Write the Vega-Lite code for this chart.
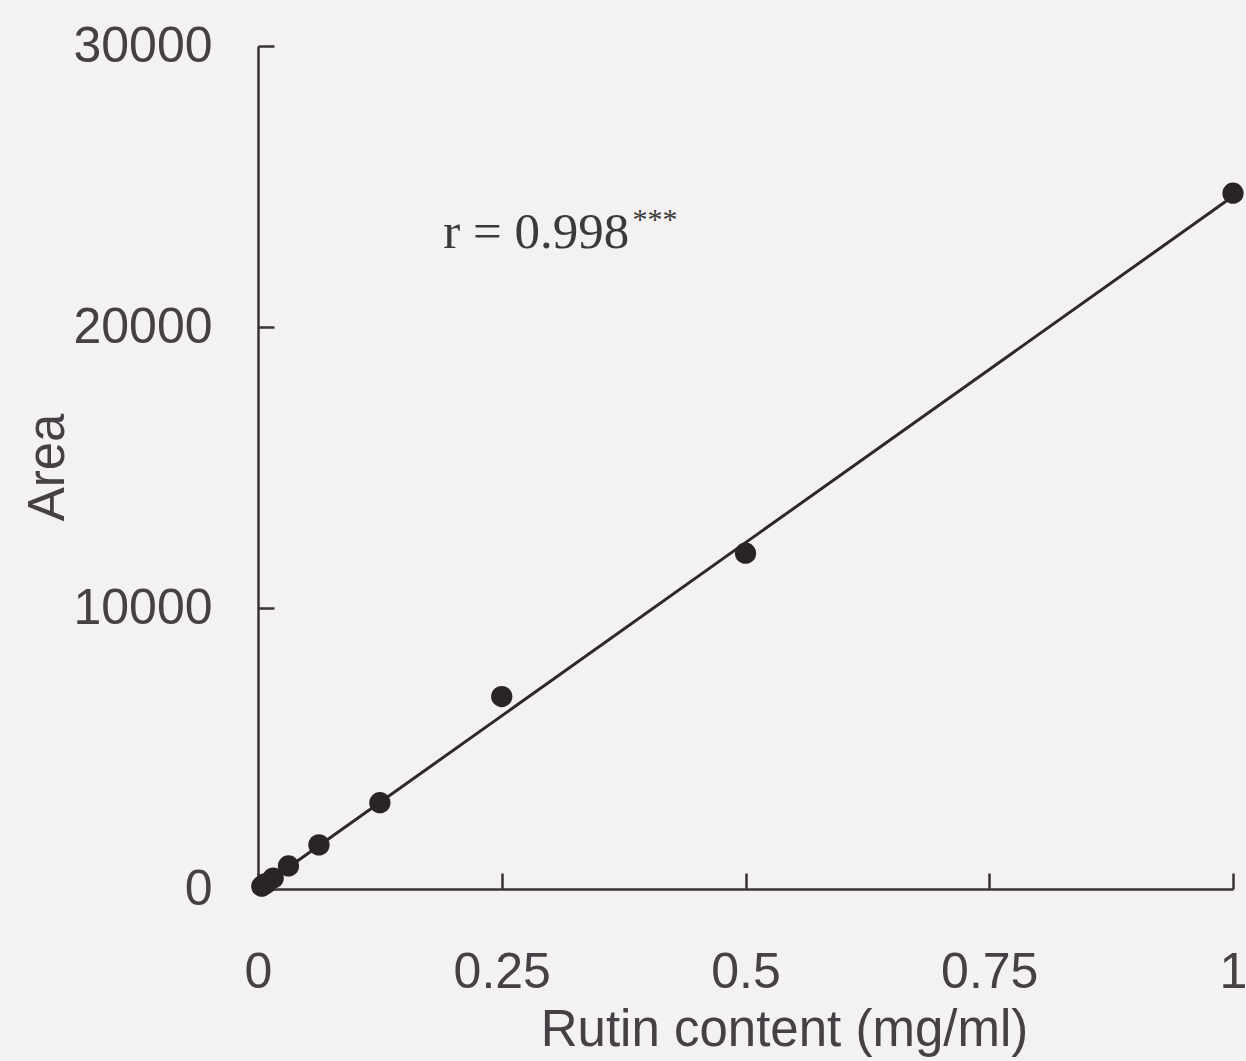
{
  "$schema": "https://vega.github.io/schema/vega-lite/v6.json",
  "autosize": "none",
  "width": 975,
  "height": 843,
  "padding": {"left": 258, "top": 46, "right": 13, "bottom": 172},
  "background": "#f3f1f1",
  "config": {
    "view": {"stroke": null},
    "axis": {
      "labelFont": "Liberation Sans",
      "titleFont": "Liberation Sans",
      "labelFontSize": 50,
      "titleFontSize": 51,
      "labelColor": "#454045",
      "titleColor": "#454045",
      "titleFontWeight": "normal",
      "domainColor": "#3a3236",
      "domainWidth": 2.5,
      "tickColor": "#3a3236",
      "tickWidth": 2.5,
      "tickSize": -16,
      "grid": false
    }
  },
  "datasets": {
    "pts": [
      {"conc": 0.0039, "area": 100},
      {"conc": 0.0078, "area": 190},
      {"conc": 0.0156, "area": 390},
      {"conc": 0.03125, "area": 820},
      {"conc": 0.0625, "area": 1570},
      {"conc": 0.125, "area": 3070},
      {"conc": 0.25, "area": 6850},
      {"conc": 0.5, "area": 11950},
      {"conc": 1.0, "area": 24760}
    ],
    "fit": [
      {"conc": 0, "area": 0},
      {"conc": 1.0, "area": 24650}
    ],
    "ann": [
      {"conc": 0.19, "area": 22800, "label": "r = 0.998"}
    ],
    "stars": [
      {"conc": 0.384, "area": 23500, "label": "***"}
    ]
  },
  "layer": [
    {
      "data": {"name": "fit"},
      "mark": {"type": "line", "color": "#2e282c", "strokeWidth": 3},
      "encoding": {
        "x": {
          "field": "conc", "type": "quantitative",
          "scale": {"domain": [0, 1], "nice": false, "zero": true},
          "axis": {
            "values": [0, 0.25, 0.5, 0.75, 1],
            "format": "~g",
            "title": "Rutin content (mg/ml)",
            "labelPadding": 74,
            "labelBaseline": "top",
            "labelFlush": false,
            "titleX": 526,
            "titleY": 156,
            "titleBaseline": "alphabetic",
            "titleAnchor": null,
            "titleAlign": "center"
          }
        },
        "y": {
          "field": "area", "type": "quantitative",
          "scale": {"domain": [0, 30000], "nice": false},
          "axis": {
            "values": [0, 10000, 20000, 30000],
            "title": "Area",
            "labelPadding": 62,
            "format": "d",
            "titleX": -210,
            "titleY": 421,
            "titleAngle": -90,
            "titleAlign": "center",
            "titleBaseline": "middle",
            "titleAnchor": null
          }
        }
      }
    },
    {
      "data": {"name": "pts"},
      "mark": {"type": "circle", "size": 452, "color": "#2a2327", "opacity": 1},
      "encoding": {
        "x": {"field": "conc", "type": "quantitative"},
        "y": {"field": "area", "type": "quantitative"}
      }
    },
    {
      "data": {"name": "ann"},
      "mark": {"type": "text", "font": "Liberation Serif", "fontSize": 51, "align": "left", "baseline": "alphabetic", "color": "#3a3a3a"},
      "encoding": {
        "x": {"field": "conc", "type": "quantitative"},
        "y": {"field": "area", "type": "quantitative"},
        "text": {"field": "label"}
      }
    },
    {
      "data": {"name": "stars"},
      "mark": {"type": "text", "font": "Liberation Serif", "fontSize": 30, "align": "left", "baseline": "alphabetic", "color": "#3a3a3a"},
      "encoding": {
        "x": {"field": "conc", "type": "quantitative"},
        "y": {"field": "area", "type": "quantitative"},
        "text": {"field": "label"}
      }
    }
  ]
}
